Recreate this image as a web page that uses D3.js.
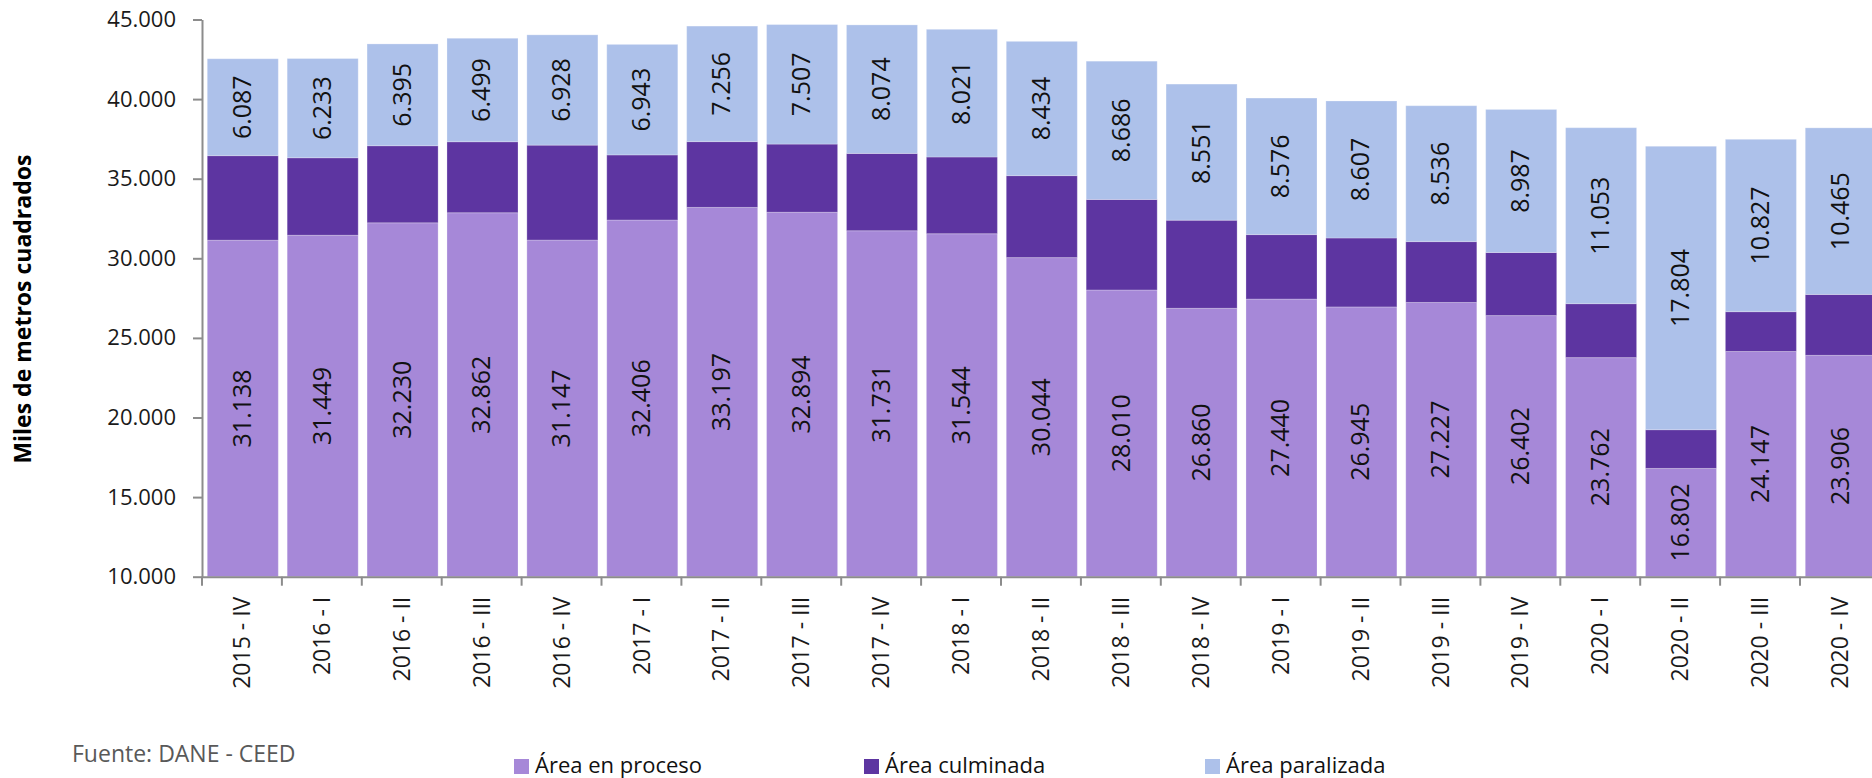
<!DOCTYPE html>
<html>
  <head>
    <meta charset="utf-8">
    <style>
      body { margin: 0; background: #fff; }
      text { font-family: "Open Sans", "Noto Sans", sans-serif; }
    </style>
  </head>
  <body>
    <script src="https://d3js.org/d3.v7.min.js"></script>
    <script>
      var periodos = ["2015 - IV", "2016 - I", "2016 - II", "2016 - III", "2016 - IV",
                      "2017 - I", "2017 - II", "2017 - III", "2017 - IV", "2018 - I",
                      "2018 - II", "2018 - III", "2018 - IV", "2019 - I", "2019 - II",
                      "2019 - III", "2019 - IV", "2020 - I", "2020 - II", "2020 - III",
                      "2020 - IV"];
      var enProceso = [31138, 31449, 32230, 32862, 31147, 32406, 33197, 32894, 31731, 31544,
                       30044, 28010, 26860, 27440, 26945, 27227, 26402, 23762, 16802, 24147,
                       23906];
      // no labels for this one in the original
      var culminada = [5309, 4866, 4841, 4460, 5961, 4087, 4133, 4281, 4856, 4819,
                       5149, 5686, 5532, 4049, 4330, 3821, 3961, 3388, 2431, 2500,
                       3823];
      var paralizada = [6087, 6233, 6395, 6499, 6928, 6943, 7256, 7507, 8074, 8021,
                        8434, 8686, 8551, 8576, 8607, 8536, 8987, 11053, 17804, 10827,
                        10465];
      var yTicks = [10000, 15000, 20000, 25000, 30000, 35000, 40000, 45000];
      var series = ["Área en proceso", "Área culminada", "Área paralizada"];
      var colores = ["#a688d8", "#5d35a1", "#adc1ea"];

      var W = 1872, H = 778;
      var mLeft = 202, mTop = 19.5, mBottom = 576.7, step = 79.9;

      var es = d3.formatLocale({ decimal: ",", thousands: ".", grouping: [3], currency: ["$", ""] });
      var fmt = es.format(",d");

      var rows = periodos.map(function (p, i) {
        return { periodo: p, proceso: enProceso[i], culminada: culminada[i], paralizada: paralizada[i] };
      });
      var keys = ["proceso", "culminada", "paralizada"];
      var stacked = d3.stack().keys(keys)(rows);

      var svg = d3.select("body").append("svg")
        .attr("width", W).attr("height", H);

      var x = d3.scaleBand().domain(periodos)
        .range([mLeft, mLeft + step * periodos.length]);
      var y = d3.scaleLinear().domain([10000, 45000])
        .range([mBottom, mTop]).clamp(true);

      var bw = x.bandwidth();
      var layers = svg.append("g").selectAll("g")
        .data(stacked).enter().append("g")
        .attr("fill", function (d, i) { return colores[i]; });

      layers.selectAll("rect")
        .data(function (d) { return d; })
        .enter().append("rect")
        .attr("x", function (d) { return x(d.data.periodo) + bw * 0.066; })
        .attr("width", bw * 0.889)
        .attr("y", function (d) { return y(d[1]); })
        .attr("height", function (d) { return y(d[0]) - y(d[1]); })
        .attr("stroke", "#ffffff").attr("stroke-opacity", 0.25).attr("stroke-width", 1);

      // value labels on proceso and paralizada
      [0, 2].forEach(function (k) {
        svg.append("g").selectAll("text")
          .data(stacked[k]).enter().append("text")
          .attr("transform", function (d) {
            var cx = x(d.data.periodo) + bw / 2;
            var cy = (y(d[0]) + y(d[1])) / 2;
            return "translate(" + cx + "," + cy + ") rotate(-90)";
          })
          .attr("text-anchor", "middle").attr("dy", "0.35em")
          .style("font-size", "25px").attr("fill", "#111")
          .text(function (d) { return fmt(d[1] - d[0]); });
      });

      // y axis
      var yAxis = svg.append("g").attr("transform", "translate(" + mLeft + ",0)")
        .call(d3.axisLeft(y).tickValues(yTicks).tickFormat(fmt).tickSize(9).tickPadding(17).tickSizeOuter(0));
      yAxis.select(".domain").attr("stroke", "#8c8c8c").attr("stroke-width", 2);
      yAxis.selectAll(".tick line").attr("stroke", "#8c8c8c").attr("stroke-width", 2);
      yAxis.selectAll("text").style("font-size", "22px").attr("fill", "#1a1a1a")
        .style("font-family", "'Open Sans', sans-serif");

      // x axis
      var xAxis = svg.append("g").attr("transform", "translate(0," + mBottom + ")")
        .call(d3.axisBottom(x).tickSize(0).tickSizeOuter(0));
      xAxis.select(".domain").attr("stroke", "#8c8c8c").attr("stroke-width", 2);
      xAxis.selectAll("text")
        .attr("transform", "rotate(-90)")
        .attr("x", -20).attr("y", 0).attr("dy", "0.35em")
        .attr("text-anchor", "end")
        .style("font-size", "23px").attr("fill", "#1a1a1a")
        .style("font-family", "'Open Sans', sans-serif");
      xAxis.selectAll(".sep").data(periodos).enter().append("line")
        .attr("class", "sep")
        .attr("x1", function (d) { return x(d); }).attr("x2", function (d) { return x(d); })
        .attr("y1", 0).attr("y2", 9)
        .attr("stroke", "#8c8c8c").attr("stroke-width", 2);

      // y title
      svg.append("text")
        .attr("transform", "translate(23," + ((mTop + mBottom) / 2 + 11) + ") rotate(-90)")
        .attr("text-anchor", "middle").attr("dy", "0.35em")
        .style("font-size", "23px").style("font-weight", "bold").attr("fill", "#000")
        .text("Miles de metros cuadrados");

      // source
      svg.append("text").attr("x", 72).attr("y", 762)
        .style("font-size", "23px").attr("fill", "#595959")
        .text("Fuente:  DANE - CEED");

      // legend
      var legX = [514, 864, 1205];
      var leg = svg.append("g").selectAll("g").data(series).enter().append("g")
        .attr("transform", function (d, i) { return "translate(" + legX[i] + ",759)"; });
      leg.append("rect").attr("width", 15).attr("height", 15)
        .attr("fill", function (d, i) { return colores[i]; });
      leg.append("text").attr("x", 21).attr("y", 14)
        .style("font-size", "22px").attr("fill", "#111")
        .text(function (d) { return d; });
    </script>
  </body>
</html>
